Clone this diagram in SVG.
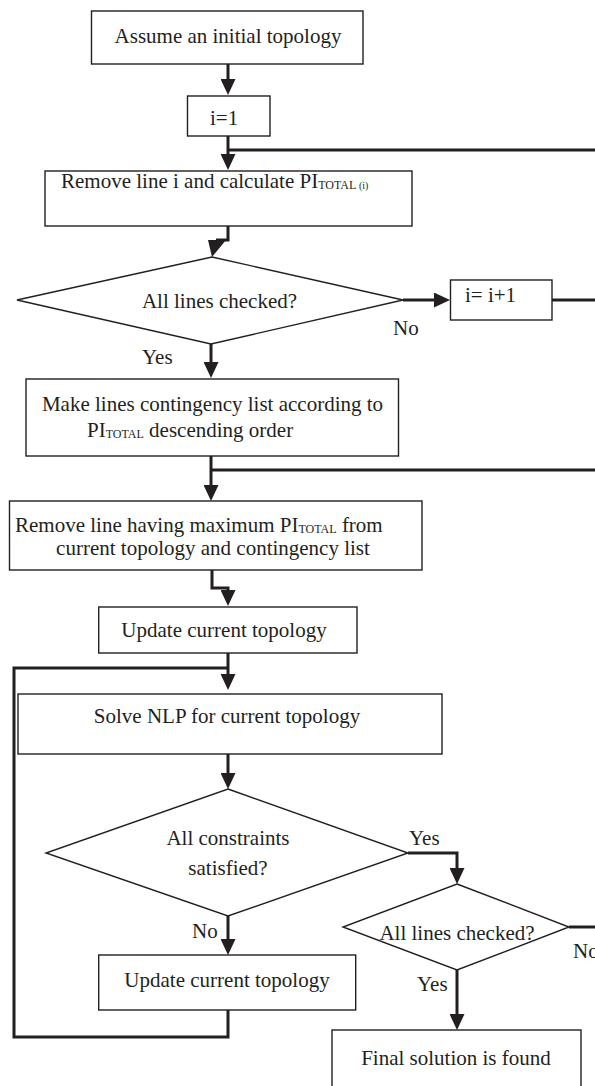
<svg xmlns="http://www.w3.org/2000/svg" width="595" height="1086" viewBox="0 0 595 1086">
<style>
.box{fill:#fff;stroke:#231f20;stroke-width:1.4}
.con{fill:none;stroke:#231f20;stroke-width:3}
.t{font-family:"Liberation Serif","Times New Roman",serif;font-size:21px;fill:#231f20}
.c{text-anchor:middle}
.sub{font-size:12px}
</style>
<defs>
<marker id="ah" markerUnits="userSpaceOnUse" markerWidth="16" markerHeight="15" refX="4" refY="7.5" orient="auto">
<path d="M0,0 L16,7.5 L0,15 z" fill="#231f20"/>
</marker>
</defs>
<rect width="595" height="1086" fill="#fff"/>
<g id="connectors">
<path class="con" d="M228,64 V83" marker-end="url(#ah)"/>
<path class="con" d="M228,136 V158" marker-end="url(#ah)"/>
<path class="con" d="M228,150 H595"/>
<path class="con" d="M228,226 V240 H216"/>
<polygon points="208,240 226,240 212,257" fill="#231f20"/>
<path class="con" d="M403,300 H438" marker-end="url(#ah)"/>
<path class="con" d="M552,300 H595"/>
<path class="con" d="M211,344 V366" marker-end="url(#ah)"/>
<path class="con" d="M211,456 V489" marker-end="url(#ah)"/>
<path class="con" d="M211,470 H595"/>
<path class="con" d="M212,570 V588 H228 V594" marker-end="url(#ah)"/>
<path class="con" d="M228,653 V678" marker-end="url(#ah)"/>
<path class="con" d="M228,668 H14 V1037 H228 V1010"/>
<path class="con" d="M228,754 V777" marker-end="url(#ah)"/>
<path class="con" d="M408,853 H457 V872" marker-end="url(#ah)"/>
<path class="con" d="M228,916 V943" marker-end="url(#ah)"/>
<path class="con" d="M569,927 H595"/>
<path class="con" d="M457,970 V1018" marker-end="url(#ah)"/>
</g>
<g id="labels">
<text class="t" x="393" y="335">No</text>
<text class="t" x="142" y="364">Yes</text>
<text class="t" x="409" y="845">Yes</text>
<text class="t" x="192" y="938">No</text>
<text class="t" x="573" y="958">No</text>
<text class="t" x="417" y="991">Yes</text>
</g>
<g id="n1"><rect class="box" x="91.5" y="11" width="271.5" height="53"/><text class="t c" x="228" y="43">Assume an initial topology</text></g>
<g id="n2"><rect class="box" x="187.5" y="96" width="82.5" height="40"/><text class="t" x="210" y="125">i=1</text></g>
<g id="n3"><rect class="box" x="45" y="171" width="367" height="55"/><text class="t" x="61" y="188">Remove line i and calculate PI<tspan class="sub" dy="1">TOTAL </tspan><tspan font-size="10">(i)</tspan></text></g>
<g id="d1"><polygon class="box" points="212,257 403,300 211,344 17,300"/><text class="t c" x="219.5" y="308">All  lines checked?</text></g>
<g id="n4"><rect class="box" x="450.5" y="280" width="101.5" height="40"/><text class="t" x="465" y="302">i= i+1</text></g>
<g id="n5"><rect class="box" x="26" y="379" width="372.5" height="77"/><text class="t c" x="212.5" y="411">Make lines contingency list according to</text><text class="t" x="87" y="437">PI<tspan class="sub" dy="1">TOTAL</tspan><tspan dy="-1">  descending order</tspan></text></g>
<g id="n6"><rect class="box" x="9.5" y="501" width="412.5" height="69"/><text class="t" x="15" y="532">Remove line having maximum PI<tspan class="sub" dy="1">TOTAL</tspan><tspan dy="-1">  from</tspan></text><text class="t c" x="213" y="555">current topology and contingency list</text></g>
<g id="n7"><rect class="box" x="98.7" y="607" width="258.3" height="46"/><text class="t c" x="224" y="637">Update current topology</text></g>
<g id="n8"><rect class="box" x="18" y="694" width="424" height="60"/><text class="t c" x="227" y="723">Solve NLP for current topology</text></g>
<g id="d2"><polygon class="box" points="228,789 408,853 228,916 46,853"/><text class="t c" x="228" y="845">All constraints</text><text class="t c" x="228" y="875">satisfied?</text></g>
<g id="d3"><polygon class="box" points="457,884 569,927 457,970 343,927"/><text class="t c" x="457" y="940">All lines checked?</text></g>
<g id="n10"><rect class="box" x="98.7" y="955" width="257" height="55"/><text class="t c" x="227" y="987">Update current topology</text></g>
<g id="n11"><rect class="box" x="332" y="1030" width="249" height="70"/><text class="t c" x="456" y="1065">Final solution is found</text></g>
</svg>
